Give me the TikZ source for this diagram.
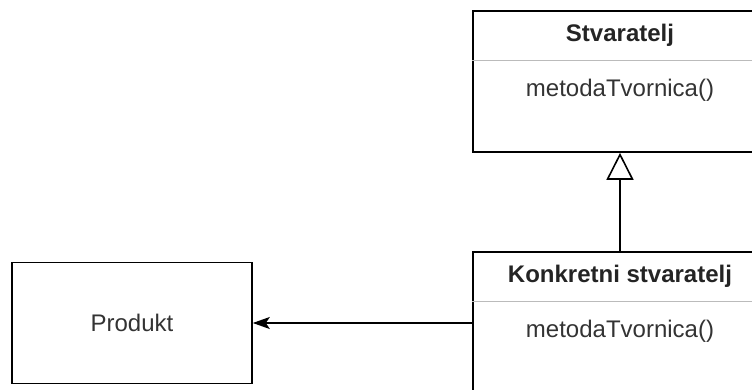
\documentclass[tikz,border=0pt]{standalone}
\usepackage{fontspec}
\setmainfont{Liberation Sans}
\usetikzlibrary{positioning,arrows.meta}
\definecolor{txtgray}{HTML}{333333}
\definecolor{linegray}{HTML}{BBBBBB}

\begin{document}
\begin{tikzpicture}[x=1pt,y=1pt,
	    cls/.style={draw, line width=1.6pt, minimum width=294pt, inner sep=0pt},
	    title/.style={font=\fontsize{24}{28}\selectfont\bfseries, text=txtgray!70!black, minimum width=294pt, minimum height=50pt, inner sep=0pt},
	    method/.style={font=\fontsize{24}{28}\selectfont, text=txtgray, minimum width=294pt, minimum height=58pt, inner sep=0pt},
	    divider/.style={linegray, line width=1.4pt},
	    prod/.style={draw, line width=1.6pt, minimum width=240pt, minimum height=121pt, font=\fontsize{24}{28}\selectfont, text=txtgray}]
	    \useasboundingbox (0,0) rectangle (752,389);
	    \clip (0,0) rectangle (752,389);
	    
	    % klase
	    \node[cls, minimum height=141pt] (stv) at (620,307.5) {};
	    \node[title, below=0pt of stv.north] (stvT) {Stvaratelj};
	    \node[method, below=0pt of stvT] (stvM) {metodaTvornica()};
	    \draw[divider] (stvT.south -| stv.west) -- (stvT.south -| stv.east);
	    
	    \node[cls, minimum height=142pt] (kon) at (620,66) {};
	    \node[title, below=0pt of kon.north] (konT) {Konkretni stvaratelj};
	    \node[method, below=0pt of konT] (konM) {metodaTvornica()};
	    \draw[divider] (konT.south -| kon.west) -- (konT.south -| kon.east);
	    
	    \node[prod] (produkt) at (132,66) {Produkt};
	    
	    % veze
	    \draw[line width=1.6pt, -{Triangle[fill=white, length={27pt 0}, width={27pt 0}]}] (kon.north) -- (stv.south);
	    \draw[line width=1.6pt, -{Stealth[length={17pt 0}, width={12pt 0}, inset={4pt 0}]}] (kon.west) -- (produkt.east);
	\end{tikzpicture}
\end{document}
